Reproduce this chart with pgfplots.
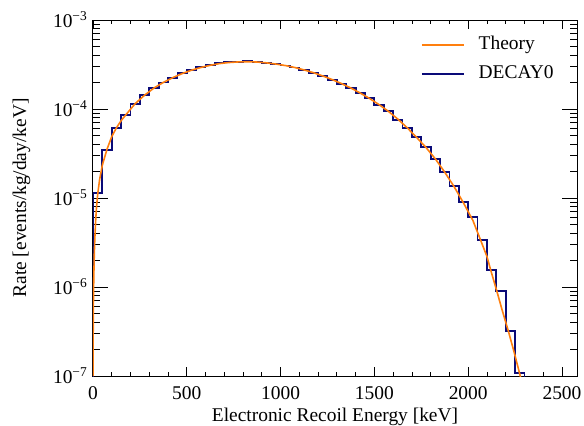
\documentclass[border=0pt]{standalone}
\usepackage{fontspec}
\setmainfont{Liberation Serif}
\usepackage{pgfplots}
\pgfplotsset{compat=1.18}
\definecolor{theory}{RGB}{255,127,14}
\definecolor{decay}{RGB}{10,10,120}
\newcommand{\tenpow}[1]{10\raisebox{7bp}{\fontsize{13.5}{15}\selectfont −#1}}

% DECAY0 histogram, 50 keV bins (left edge, rate)
\pgfplotstableread{
E rate
0 1e-8
0 1.14e-5
50 3.46e-5
100 6.07e-5
150 8.57e-5
200 1.15e-4
250 1.43e-4
300 1.73e-4
350 1.99e-4
400 2.25e-4
450 2.52e-4
500 2.74e-4
550 2.94e-4
600 3.12e-4
650 3.26e-4
700 3.34e-4
750 3.40e-4
800 3.43e-4
850 3.35e-4
900 3.29e-4
950 3.20e-4
1000 3.09e-4
1050 2.92e-4
1100 2.75e-4
1150 2.55e-4
1200 2.35e-4
1250 2.12e-4
1300 1.92e-4
1350 1.72e-4
1400 1.51e-4
1450 1.32e-4
1500 1.12e-4
1550 9.4e-5
1600 7.6e-5
1650 6.1e-5
1700 4.8e-5
1750 3.75e-5
1800 2.72e-5
1850 1.97e-5
1900 1.37e-5
1950 9.1e-6
2000 6.06e-6
2050 3.37e-6
2100 1.55e-6
2150 9.1e-7
2200 3.21e-7
2250 1.09e-7
2300 1e-8
}\decaytable

% theory curve
\pgfplotstableread{
E rate
0.3 1.0e-7
1 3.0e-7
2 6.0e-7
4 1.2e-6
7 2.4e-6
10 3.6e-6
15 6.0e-6
20 8.5e-6
25 1.1e-5
35 1.6e-5
50 2.35e-5
75 3.55e-5
100 4.9e-5
125 6.15e-5
150 7.4e-5
175 8.6e-5
225 1.15e-4
275 1.43e-4
325 1.72e-4
375 1.99e-4
425 2.25e-4
475 2.50e-4
525 2.73e-4
575 2.93e-4
625 3.10e-4
675 3.24e-4
725 3.33e-4
775 3.38e-4
825 3.40e-4
875 3.37e-4
925 3.30e-4
975 3.20e-4
1025 3.08e-4
1075 2.93e-4
1125 2.75e-4
1175 2.56e-4
1225 2.35e-4
1275 2.14e-4
1325 1.93e-4
1375 1.72e-4
1425 1.51e-4
1475 1.31e-4
1525 1.12e-4
1575 9.4e-5
1625 7.7e-5
1675 6.15e-5
1725 4.8e-5
1775 3.7e-5
1825 2.75e-5
1875 1.95e-5
1925 1.34e-5
1975 8.8e-6
2025 5.6e-6
2066 3.37e-6
2100 2.2e-6
2120 1.55e-6
2152 9.1e-7
2180 5.6e-7
2214 3.2e-7
2245 1.85e-7
2276 1.03e-7
2300 6.5e-8
2330 3.5e-8
}\theorytable

\begin{document}
\fontsize{19.5}{23}\selectfont
\begin{tikzpicture}
\begin{axis}[
    at={(0,0)}, anchor=south west,
    scale only axis,
    width=484bp, height=356bp,
    xmin=0, xmax=2580,
    ymode=log, ymin=1e-7, ymax=1e-3,
    xtick={0,500,1000,1500,2000,2500},
    xticklabels={0,500,1000,1500,2000,2500},
    minor x tick num=4,
    ytick={1e-7,1e-6,1e-5,1e-4,1e-3},
    yticklabels={\tenpow{7},\tenpow{6},\tenpow{5},\tenpow{4},\tenpow{3}},
    tick align=inside,
    axis line style={line width=1bp},
    every tick/.style={black, line width=0.8bp},
    xtick style={/pgfplots/major tick length=9bp, /pgfplots/minor tick length=4bp},
    ytick style={/pgfplots/major tick length=15bp, /pgfplots/minor tick length=7.5bp},
    xticklabel style={anchor=base, yshift=-23bp},
    yticklabel style={anchor=east, inner sep=0pt, xshift=-6bp},
    xlabel={Electronic Recoil Energy [keV]},
    ylabel={Rate [events/kg/day/keV]},
    xlabel style={at={(axis description cs:0.5,-0.1264)}, anchor=base},
    ylabel style={at={(axis description cs:-0.1384,0.5)}, anchor=base},
    legend cell align=left,
    legend image code/.code={\draw[#1] (0bp,0bp) -- (42bp,0bp);},
    legend style={draw=none, fill=none, at={(axis description cs:0.677,0.955)},
        anchor=north west, inner sep=0pt, row sep=12bp, column sep=14bp,
        nodes={inner sep=0pt, text height=13bp, text depth=4bp}},
]
\addlegendimage{color=theory, line width=1.6bp}
\addlegendentry{Theory}
\addlegendimage{color=decay, line width=1.8bp}
\addlegendentry{DECAY0}
\addplot[forget plot, const plot mark left, color=decay, line width=1.8bp, line join=miter] table[x=E, y=rate] {\decaytable};
\addplot[forget plot, color=theory, line width=1.6bp] table[x=E, y=rate] {\theorytable};
\end{axis}
\pgfresetboundingbox
\path[use as bounding box] (-93bp,-50bp) rectangle (491bp,376bp);
\end{tikzpicture}
\end{document}
